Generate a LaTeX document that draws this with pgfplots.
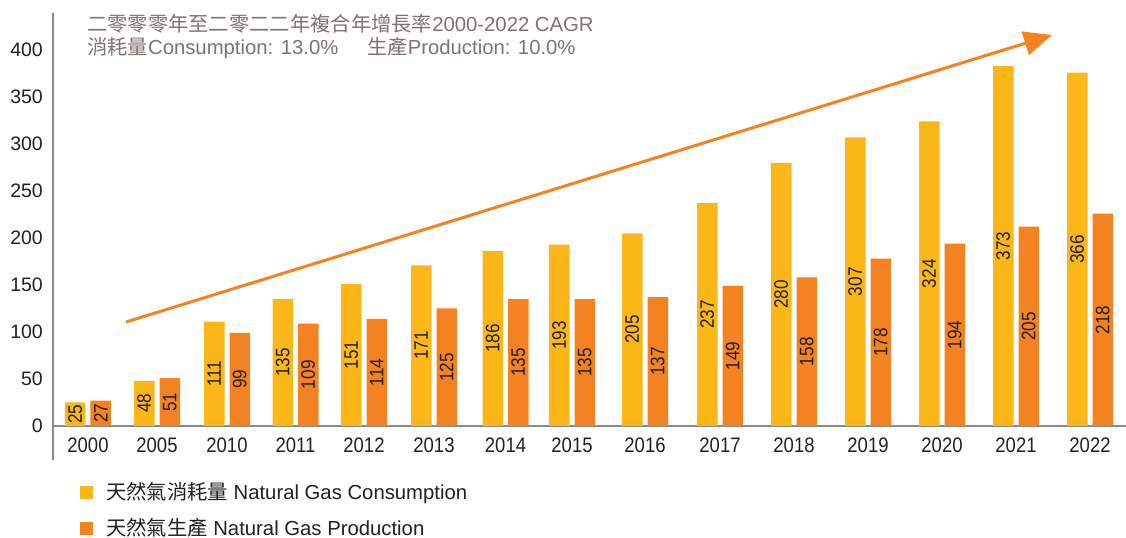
\documentclass[border=0pt]{standalone}
\usepackage{fontspec}
\setmainfont{Liberation Sans}
\newfontfamily\cjk{Noto Sans CJK TC}
\newfontfamily\condfont{Liberation Sans}[FakeStretch=0.88]
\usepackage{pgfplots}
\pgfplotsset{compat=1.18}
\usepackage{pgfplotstable}
\usetikzlibrary{arrows.meta}
\definecolor{gasY}{HTML}{FBB717}
\definecolor{gasO}{HTML}{F38220}
\definecolor{txt}{HTML}{231F20}
\definecolor{hdr}{HTML}{7D7470}
\definecolor{axgray}{HTML}{8A8A8A}

% x = group centre (pixel-like units), c/p = drawn bar heights, cl/pl = printed labels
\pgfplotstableread{
x      c    cl   p    pl
88     25   25   27   27
157    48   48   51   51
227    111  111  99   99
295.5  135  135  109  109
364    151  151  114  114
434    171  171  125  125
505.5  186  186  135  135
572    193  193  135  135
645    205  205  137  137
720    237  237  149  149
794    280  280  158  158
868    307  307  178  178
942    324  324  194  194
1016   383  373  212  205
1090   376  366  226  218
}\gasdata

\begin{document}
\begin{tikzpicture}
\useasboundingbox (-53bp,-78bp) rectangle (1073bp,460bp);
\begin{axis}[
  at={(0,0)}, anchor=south west,
  scale only axis, width=1073bp, height=447bp,
  xmin=53, xmax=1126, ymin=-36.2, ymax=439.4,
  axis x line*=middle, axis y line*=left,
  hide obscured x ticks=false, hide obscured y ticks=false,
  x axis line style={draw=axgray, line width=2bp},
  y axis line style={draw=axgray, line width=1.5bp},
  xtick={88,157,227,295.5,364,434,505.5,572,645,720,794,868,942,1016,1090},
  xticklabels={2000,2005,2010,2011,2012,2013,2014,2015,2016,2017,2018,2019,2020,2021,2022},
  ytick={0,50,...,400},
  /pgf/number format/assume math mode=true,
  tick style={draw=none},
  xticklabel style={font=\condfont\fontsize{21bp}{22bp}\selectfont, text=txt, inner sep=0pt, anchor=north, yshift=-12bp},
  yticklabel style={font=\fontsize{19.5bp}{20bp}\selectfont, text=txt, inner sep=0pt, anchor=east, xshift=-10bp},
  clip=false,
  legend image code/.code={\fill[#1] (0bp,-6.5bp) rectangle (13bp,6.5bp);},
  legend style={draw=none, fill=none, at={(axis description cs:0.02516,-0.0463)}, anchor=north west,
    inner sep=0pt, column sep=13bp, row sep=13.4bp,
    font=\fontsize{20.3bp}{22bp}\selectfont, text=txt,
    nodes={inner sep=0pt, text height=18.6bp, text depth=4bp},
    cells={anchor=west}},
]
\addlegendimage{fill=gasY, draw=none}
\addlegendentry{{\cjk 天然氣消耗量} Natural Gas Consumption}
\addlegendimage{fill=gasO, draw=none}
\addlegendentry{{\cjk 天然氣生產} Natural Gas Production}

\addplot[forget plot, ybar, bar width=20.5, bar shift=0pt, fill=gasY, draw=none]
  table[x expr=\thisrow{x}-12.75, y=c]{\gasdata};
\addplot[forget plot, ybar, bar width=20.5, bar shift=0pt, fill=gasO, draw=none]
  table[x expr=\thisrow{x}+12.75, y=p]{\gasdata};

\addplot[forget plot, only marks, mark=none, nodes near coords, point meta=explicit symbolic,
  every node near coord/.append style={rotate=90, anchor=center, inner sep=0pt, text=txt,
    font=\condfont\fontsize{19.5bp}{20bp}\selectfont}]
  table[x expr=\thisrow{x}-12.75, y expr=\thisrow{c}/2, meta=cl]{\gasdata};
\addplot[forget plot, only marks, mark=none, nodes near coords, point meta=explicit symbolic,
  every node near coord/.append style={rotate=90, anchor=center, inner sep=0pt, text=txt,
    font=\condfont\fontsize{19.5bp}{20bp}\selectfont}]
  table[x expr=\thisrow{x}+12.75, y expr=\thisrow{p}/2, meta=pl]{\gasdata};

\draw[gasO, line width=3bp, -{Triangle[length=28bp,width=24bp]}] (axis cs:126,110.6) -- (axis cs:1052,416);

\node[anchor=base west, inner sep=0pt, text=hdr, font=\fontsize{20.3bp}{22bp}\selectfont]
  at ([xshift=34bp,yshift=-18.7bp]axis description cs:0,1) {{\cjk 二零零零年至二零二二年複合年增長率}2000-2022 CAGR};
\node[anchor=base west, inner sep=0pt, text=hdr, font=\fontsize{20.3bp}{22bp}\selectfont]
  at ([xshift=34bp,yshift=-42bp]axis description cs:0,1) {{\cjk 消耗量}Consumption: 13.0\%};
\node[anchor=base west, inner sep=0pt, text=hdr, font=\fontsize{20.3bp}{22bp}\selectfont]
  at ([xshift=314bp,yshift=-42bp]axis description cs:0,1) {{\cjk 生產}Production: 10.0\%};
\end{axis}
\end{tikzpicture}
\end{document}
